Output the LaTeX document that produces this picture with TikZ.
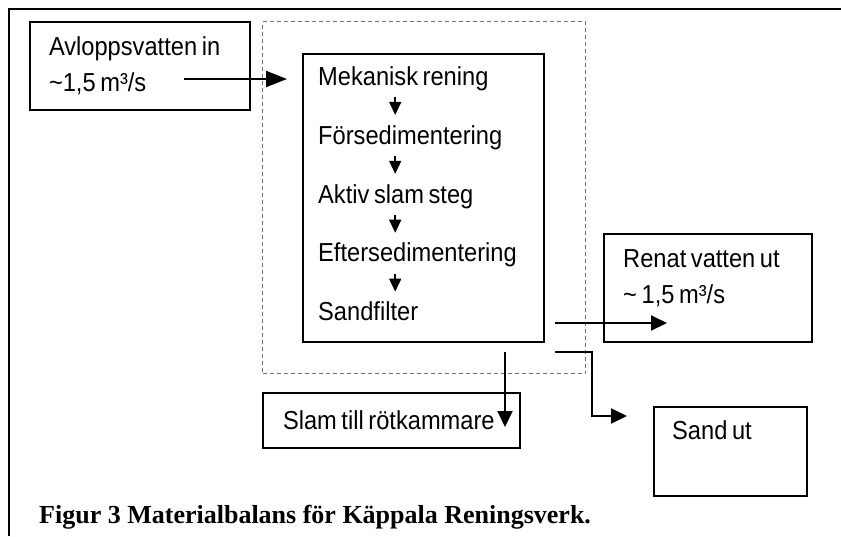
\documentclass[tikz,border=0pt]{standalone}
\usepackage{fontspec}
\setmainfont{Liberation Serif}
\newfontfamily\boxfont{Liberation Sans}[FakeStretch=0.91,WordSpace=0.7]
\usetikzlibrary{arrows.meta,positioning}

\begin{document}
\begin{tikzpicture}[
  x=1pt,y=-1pt,
  node distance=35.5pt,
  font=\boxfont\fontsize{26}{36}\selectfont,
  box/.style={rectangle,draw,line width=2pt,inner sep=0pt,anchor=north west},
  sysbox/.style={rectangle,draw=black!55,dash pattern=on 4pt off 3pt,line width=1pt,inner sep=0pt,anchor=north west},
  stepnode/.style={inner sep=0pt,text width=200pt,align=flush left,text height=18pt,text depth=5pt},
  txt/.style={inner sep=0pt,align=left},
  arr/.style={-{Triangle[length=16pt,width=15pt]},line width=2pt},
  sarr/.style={-{Triangle[length=13pt,width=12pt]},line width=1.6pt},
  frame/.style={line width=2.5pt}
]
\useasboundingbox (0,0) rectangle (841,536);
\draw[frame] (9,536) |- (841,9);

\node[box,minimum width=220pt,minimum height=88pt,text width=182pt,inner xsep=19pt,align=flush left] (avlopp) at (29,21) {Avloppsvatten in\\\textasciitilde1,5 m³/s};
\node[sysbox,minimum width=323pt,minimum height=352pt] (system) at (262,21) {};
\node[box,minimum width=241pt,minimum height=288pt] (proc) at (302,53) {};

% steg i verket
\node[stepnode,below right=14pt and 16pt of proc.north west] (s1) {Mekanisk rening};
\node[stepnode,below=of s1] (s2) {Försedimentering};
\node[stepnode,below=of s2] (s3) {Aktiv slam steg};
\node[stepnode,below=of s3] (s4) {Eftersedimentering};
\node[stepnode,below=of s4] (s5) {Sandfilter};
\foreach \a/\b in {s1/s2,s2/s3,s3/s4,s4/s5}
  \draw[sarr,shorten <=7pt,shorten >=11pt] ([xshift=-23pt]\a.south) -- ([xshift=-23pt]\b.north);

\node[box,minimum width=208pt,minimum height=108pt] (renat) at (603,233) {};
\node[txt,below right=16pt and 20pt of renat.north west] (renattxt) {Renat vatten ut\\\textasciitilde\ 1,5 m³/s};
\node[box,minimum width=153pt,minimum height=89pt] (sand) at (653,406) {};
\node[txt,below right=14pt and 19pt of sand.north west] (sandtxt) {Sand ut};
\node[box,minimum width=257pt,minimum height=55pt,text width=217pt,inner xsep=20pt,align=flush left] (slam) at (262,392) {Slam till rötkammare};

\coordinate (inflow) at (184,79);
\coordinate (wstart) at (555,323);
\coordinate (wend) at (667,323);
\coordinate (sstart) at (555,352);
\coordinate (send) at (627,416);
\coordinate (lstart) at (505,352);
\coordinate (lend) at (505,427);

\draw[arr,-{Triangle[length=21pt,width=16pt]},shorten >=15pt] (inflow) -- (inflow -| proc.west);
\draw[arr] (wstart) -- (wend);
\draw[arr] (sstart) -- ++(37,0) |- (send);
\draw[arr] (lstart) -- (lend);

\node[anchor=base west,inner sep=0pt,font=\rmfamily\bfseries\fontsize{26}{30}\selectfont] (caption) at (39,523) {Figur 3 Materialbalans för Käppala Reningsverk.};
\end{tikzpicture}
\end{document}
